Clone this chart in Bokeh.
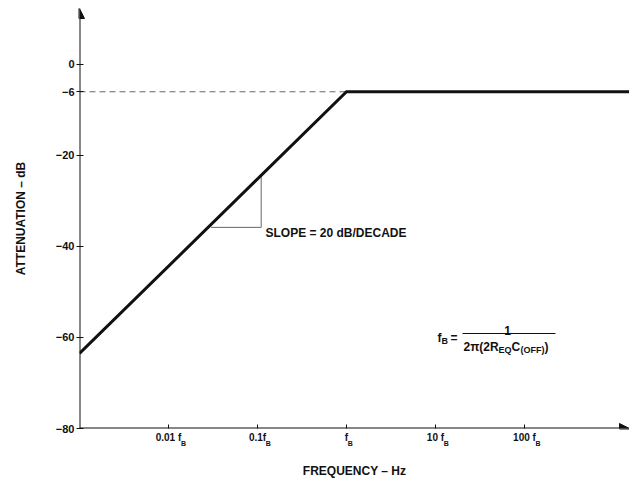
from bokeh.plotting import figure
from bokeh.models import Label, Arrow, NormalHead, FixedTicker, Range1d, LogAxis
from bokeh.embed import file_html
from bokeh.resources import INLINE

# ---- data (frequency as multiples of f_B, attenuation in dB) ----
freq_ratio = [0.001, 1.0, 1500.0]
atten_db = [-63.5, -6.0, -6.0]
ref_level_db = -6.0
slope_tri_f = [0.030, 0.110, 0.110]
slope_tri_db = [-35.8, -35.8, -24.4]
x_ticks = [0.01, 0.1, 1.0, 10.0, 100.0]
x_tick_main = ["0.01 f", "0.1f", "f", "10 f", "100 f"]
x_tick_sub = ["B", "B", "B", "B", "B"]
y_ticks = [-80, -60, -40, -20, -6, 0]

FONT = "Liberation Sans"
INK = "#111111"

# ---- geometry helpers (pixel -> data), layout only ----
X_LO, X_HI = 1e-3, 10 ** 3.18
Y_LO, Y_HI = -80.0, 12.3
FRAME_L, FRAME_T, FRAME_B = 79, 8, 428
PX_PER_DEC = 89.0
PX_PER_DB = (FRAME_B - FRAME_T) / (Y_HI - Y_LO)


def fx(px):
    return 10 ** (-3 + (px - FRAME_L) / PX_PER_DEC)


def fy(py):
    return Y_LO + (FRAME_B - py) / PX_PER_DB


p = figure(width=629, height=480, x_axis_type="log",
           x_range=Range1d(X_LO, X_HI), y_range=Range1d(Y_LO, Y_HI),
           output_backend="svg", toolbar_location=None,
           min_border_left=FRAME_L, min_border_right=0,
           min_border_top=FRAME_T, min_border_bottom=480 - FRAME_B)
p.xgrid.visible = False
p.ygrid.visible = False
p.outline_line_color = None
p.background_fill_color = "white"
p.border_fill_color = "white"

MAIN_PX = 10
SUB_PX = 7
CW = {"0": 0.556, "1": 0.556, ".": 0.278, " ": 0.278, "f": 0.333, "B": 0.722}


def tw(s, size):
    return sum(CW.get(c, 0.6) for c in s) * size


# x axis (main tick labels)
xa = p.xaxis[0]
xa.ticker = FixedTicker(ticks=x_ticks)
xa.major_label_overrides = {t: m for t, m in zip(x_ticks, x_tick_main)}
xa.axis_line_color = None
xa.major_tick_in = 4
xa.major_tick_out = 0
xa.major_tick_line_color = INK
xa.minor_tick_line_color = None
xa.major_label_text_font = FONT
xa.major_label_text_font_style = "bold"
xa.major_label_text_font_size = f"{MAIN_PX}px"
xa.major_label_text_color = INK
xa.major_label_standoff = 3

# second x axis carrying the subscript "B" of each tick label
sub_pos = [t * 10 ** (((tw(m, MAIN_PX) + tw(s, SUB_PX)) / 2.0 - 0.3) / PX_PER_DEC)
           for t, m, s in zip(x_ticks, x_tick_main, x_tick_sub)]
xs = LogAxis(ticker=FixedTicker(ticks=sub_pos),
             major_label_overrides={v: s for v, s in zip(sub_pos, x_tick_sub)})
xs.axis_line_color = None
xs.major_tick_line_color = None
xs.minor_tick_line_color = None
xs.major_tick_in = 0
xs.major_tick_out = 0
xs.major_label_text_font = FONT
xs.major_label_text_font_style = "bold"
xs.major_label_text_font_size = f"{SUB_PX}px"
xs.major_label_text_color = INK
xs.major_label_standoff = -6
xs.axis_label = "FREQUENCY – Hz"
xs.axis_label_text_font = FONT
xs.axis_label_text_font_style = "bold"
xs.axis_label_text_font_size = "12px"
xs.axis_label_text_color = INK
xs.axis_label_standoff = 14
p.add_layout(xs, "below")

# y axis
ya = p.yaxis[0]
ya.ticker = FixedTicker(ticks=y_ticks)
ya.axis_line_color = None
ya.major_tick_in = 4
ya.major_tick_out = 3
ya.major_tick_line_color = INK
ya.minor_tick_line_color = None
ya.major_label_standoff = 2
ya.major_label_text_font = FONT
ya.major_label_text_font_style = "bold"
ya.major_label_text_font_size = "11px"
ya.major_label_text_color = INK
ya.axis_label = "ATTENUATION – dB"
ya.axis_label_text_font = FONT
ya.axis_label_text_font_style = "bold"
ya.axis_label_text_font_size = "12px"
ya.axis_label_text_color = INK
ya.axis_label_standoff = 25

# axes with arrow heads
p.add_layout(Arrow(x_start=X_LO, y_start=Y_LO, x_end=X_LO, y_end=Y_HI,
                   line_width=2, line_color=INK,
                   end=NormalHead(size=10, fill_color=INK, line_color=INK)))
p.add_layout(Arrow(x_start=X_LO, y_start=Y_LO, x_end=X_HI, y_end=Y_LO,
                   line_width=2, line_color=INK,
                   end=NormalHead(size=10, fill_color=INK, line_color=INK)))

# dashed -6 dB reference
p.line([X_LO, freq_ratio[1]], [ref_level_db, ref_level_db],
       line_color="#666666", line_width=1, line_dash="6 4")

# slope triangle
p.line(slope_tri_f, slope_tri_db, line_color="#666666", line_width=1)

# response
p.line(freq_ratio, atten_db, line_color=INK, line_width=3, line_join="miter")

# slope annotation
p.add_layout(Label(x=fx(265), y=fy(232), text="SLOPE = 20 dB/DECADE",
                   text_align="left", text_baseline="middle", text_font=FONT,
                   text_font_style="bold", text_font_size="12px", text_color=INK))


def lab(px, py, txt, size, align="left"):
    p.add_layout(Label(x=fx(px), y=fy(py), text=txt, text_align=align,
                       text_baseline="alphabetic", text_font=FONT,
                       text_font_style="bold", text_font_size=size,
                       text_color=INK))


# formula f_B = 1 / (2π(2R_EQ C_(OFF)))
lab(437, 337, "f", "12px")
lab(441, 340, "B", "9px")
lab(450, 337, "=", "12px")
p.line([fx(462), fx(555)], [fy(333), fy(333)], line_color=INK, line_width=1)
lab(507, 330, "1", "12px", "center")
lab(463, 346, "2π(2R", "12px")
lab(498, 349, "EQ", "9px")
lab(511, 346, "C", "12px")
lab(520, 349, "(OFF)", "9px")
lab(544, 346, ")", "12px")

open("out.html", "w").write(file_html(p, INLINE))
